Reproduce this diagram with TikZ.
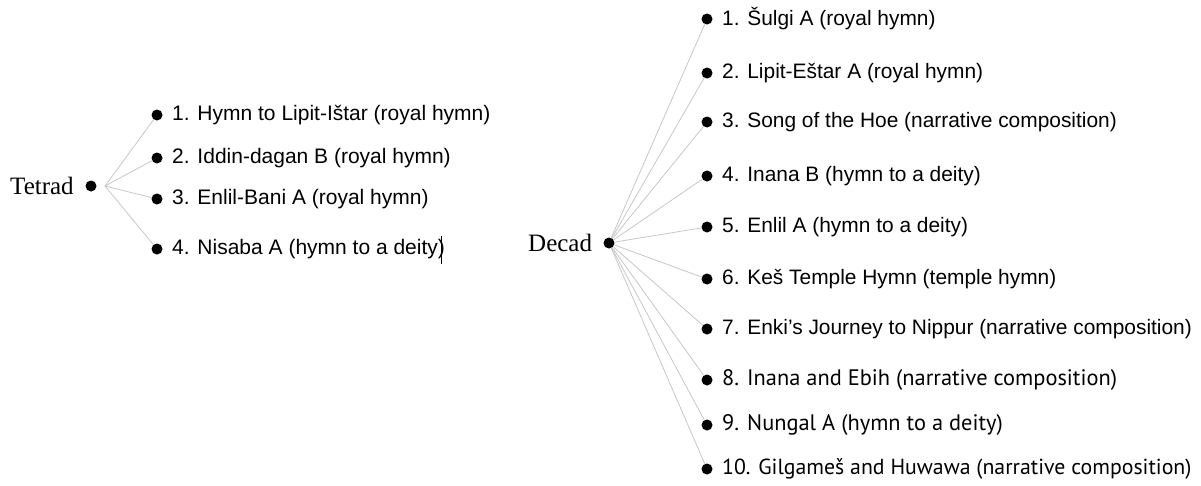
\documentclass[tikz,border=0pt]{standalone}
\usepackage{fontspec}
\setmainfont{Liberation Sans}
\newfontfamily\itemfont{Liberation Sans}
\newfontfamily\mydfont{PT Sans}
\newfontfamily\labfont{Liberation Serif}
\tikzset{
  bullet/.style={circle,fill=black,inner sep=0pt,minimum size=11pt},
  tetitem/.style={anchor=west,inner sep=0pt,font=\itemfont\fontsize{21}{23}\selectfont},
  decitem/.style={anchor=west,inner sep=0pt,font=\itemfont\fontsize{20.9}{23}\selectfont},
  decitemb/.style={anchor=west,inner sep=0pt,font=\mydfont\fontsize{22.4}{24}\selectfont},
  grouplabel/.style={anchor=west,inner sep=0pt,font=\labfont\fontsize{25}{27}\selectfont},
  link/.style={draw=black!22,line width=0.8pt}
}
\begin{document}
\begin{tikzpicture}[x=1pt,y=-1pt]
\useasboundingbox (0,0) rectangle (1201,485);
% Tetrad
\node[grouplabel] (tet) at (10,186) {Tetrad};
\node[bullet] (tetdot) at (91,186) {};
\coordinate (tj) at (105,186);
\node[bullet] (t1) at (157,115) {};
\node[bullet] (t2) at (157,158) {};
\node[bullet] (t3) at (157,199) {};
\node[bullet] (t4) at (157,249) {};
\node[tetitem] (tt1) at (172,115) {1. Hymn to Lipit-Ištar (royal hymn)};
\node[tetitem] (tt2) at (172,158) {2. Iddin-dagan B (royal hymn)};
\node[tetitem] (tt3) at (172,199) {3. Enlil-Bani A (royal hymn)};
\node[tetitem] (tt4) at (172,249) {4. Nisaba A (hymn to a deity)};
\draw[black,line width=0.9pt] (441.5,236) -- (441.5,264);
\foreach \i in {1,...,4}{\draw[link] (tj) -- (t\i);}
% Decad
\node[grouplabel] (dec) at (528,243) {Decad};
\node[bullet] (decdot) at (609,243) {};
\node[bullet] (d1) at (707,19) {};
\node[bullet] (d2) at (707,73) {};
\node[bullet] (d3) at (707,122) {};
\node[bullet] (d4) at (707,176) {};
\node[bullet] (d5) at (707,227) {};
\node[bullet] (d6) at (707,279) {};
\node[bullet] (d7) at (707,329) {};
\node[bullet] (d8) at (707,380) {};
\node[bullet] (d9) at (707,425) {};
\node[bullet] (d10) at (707,469) {};
\node[decitem] (dt1) at (722,19) {1. Šulgi A (royal hymn)};
\node[decitem] (dt2) at (722,73) {2. Lipit-Eštar A (royal hymn)};
\node[decitem] (dt3) at (722,122) {3. Song of the Hoe (narrative composition)};
\node[decitem] (dt4) at (722,176) {4. Inana B (hymn to a deity)};
\node[decitem] (dt5) at (722,227) {5. Enlil A (hymn to a deity)};
\node[decitem] (dt6) at (722,279) {6. Keš Temple Hymn (temple hymn)};
\node[decitem] (dt7) at (722,329) {7. Enki’s Journey to Nippur (narrative composition)};
\node[decitemb] (dt8) at (722,380) {8. Inana and Ebih (narrative composition)};
\node[decitemb] (dt9) at (722,425) {9. Nungal A (hymn to a deity)};
\node[decitemb,font=\mydfont\fontsize{21.8}{24}\selectfont] (dt10) at (722,469) {10. Gilgameš and Huwawa (narrative composition)};
\foreach \i in {1,...,10}{\draw[link] (decdot) -- (d\i);}
\end{tikzpicture}
\end{document}
